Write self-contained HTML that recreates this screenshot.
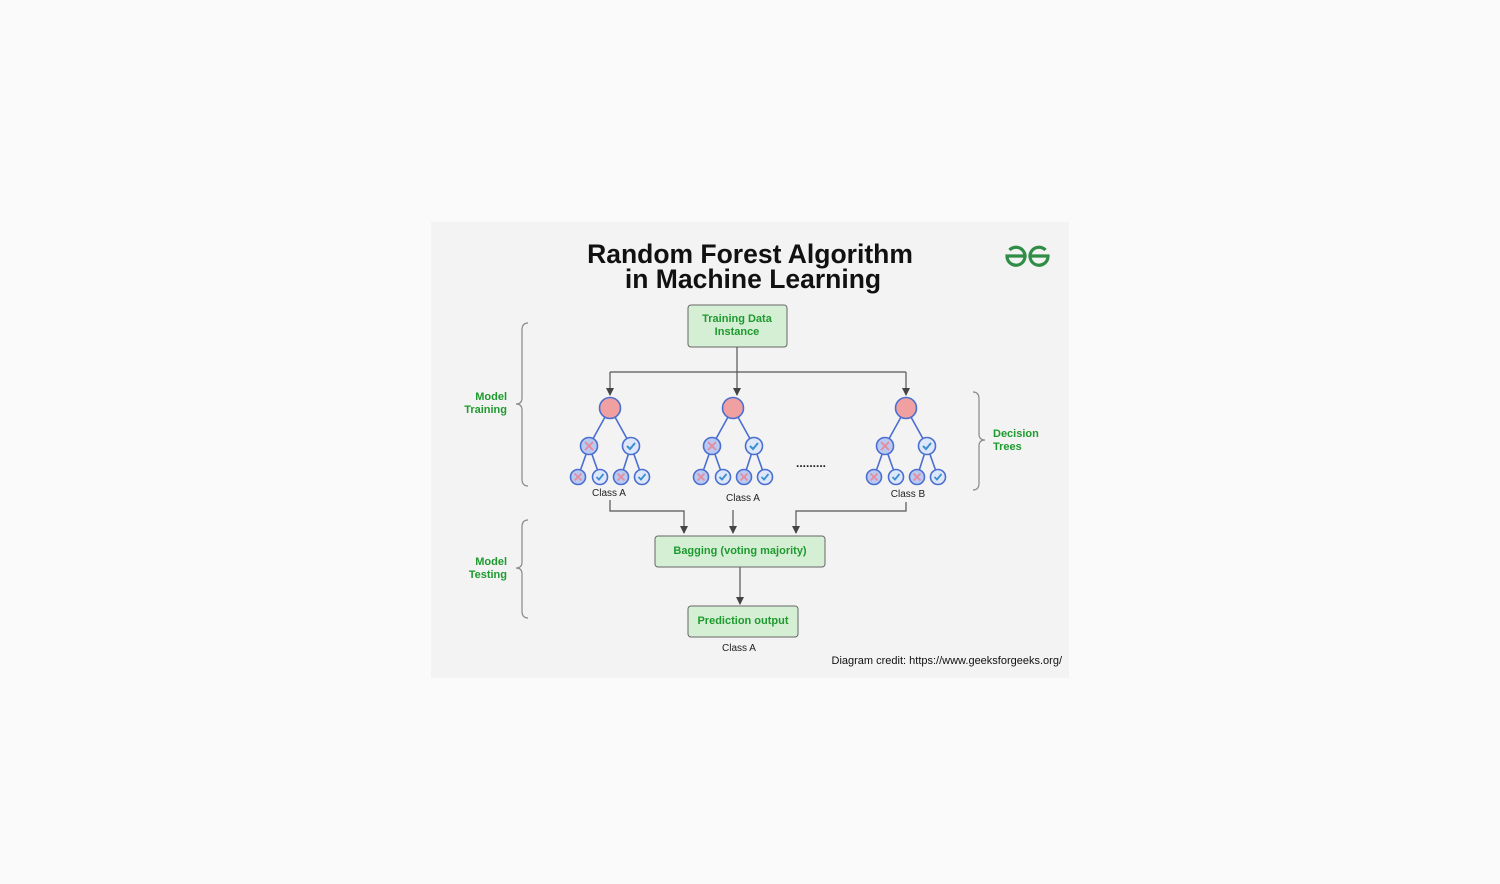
<!DOCTYPE html>
<html><head><style>
html,body{margin:0;padding:0;background:#fafafa;}
svg{display:block;}
text{font-family:"Liberation Sans",sans-serif;}
</style></head><body>
<svg width="1500" height="884" viewBox="0 0 1500 884" xmlns="http://www.w3.org/2000/svg">
<defs>
<marker id="ar" markerWidth="8" markerHeight="8" refX="7" refY="4" orient="auto" markerUnits="userSpaceOnUse">
<path d="M0,0 L8,4 L0,8 z" fill="#444"/></marker>
<g id="xc"><circle r="8.5" fill="#b9c9f2" stroke="#4a6fd0" stroke-width="1.6"/><path d="M-4,-4 L4,4 M4,-4 L-4,4" stroke="#e88a9a" stroke-width="1.8"/></g>
<g id="xs"><circle r="7.5" fill="#b9c9f2" stroke="#4a6fd0" stroke-width="1.6"/><path d="M-3.5,-3.5 L3.5,3.5 M3.5,-3.5 L-3.5,3.5" stroke="#e88a9a" stroke-width="1.6"/></g>
<g id="cc"><circle r="8.5" fill="#dde7f9" stroke="#4a6fd0" stroke-width="1.6"/><path d="M-4,0 L-1,3 L4,-3" fill="none" stroke="#3a8fd0" stroke-width="2"/></g>
<g id="cs"><circle r="7.5" fill="#dde7f9" stroke="#4a6fd0" stroke-width="1.6"/><path d="M-3.5,0 L-1,2.5 L3.5,-3" fill="none" stroke="#3a8fd0" stroke-width="1.8"/></g>
<g id="tree">
<path d="M0,0 L-21,38 M0,0 L21,38 M-21,38 L-32,69 M-21,38 L-10,69 M21,38 L11,69 M21,38 L32,69" stroke="#4a6fd0" stroke-width="1.6"/>
<circle r="10.5" fill="#f0a0a0" stroke="#4a6fd0" stroke-width="1.6"/>
<use href="#xc" x="-21" y="38"/><use href="#cc" x="21" y="38"/>
<use href="#xs" x="-32" y="69"/><use href="#cs" x="-10" y="69"/><use href="#xs" x="11" y="69"/><use href="#cs" x="32" y="69"/>
</g>
</defs>
<rect x="431" y="222" width="638" height="456" fill="#f3f3f3"/>
<text x="750" y="263" text-anchor="middle" font-size="26.5" font-weight="bold" fill="#111">Random Forest Algorithm</text>
<text x="753" y="288" text-anchor="middle" font-size="26.5" font-weight="bold" fill="#111">in Machine Learning</text>
<g fill="none" stroke="#2f8d46" stroke-width="3.2">
<path d="M1009.5,250 A9,9 0 1 1 1007,256 H1026"/>
<path d="M1045.5,250 A9,9 0 1 0 1048,256 H1029"/>
</g>
<rect x="688" y="305" width="99" height="42" rx="3" fill="#d5efd5" stroke="#666" stroke-width="1"/>
<text x="737" y="322" text-anchor="middle" font-size="11" font-weight="bold" fill="#1e9a2e">Training Data</text>
<text x="737" y="335" text-anchor="middle" font-size="11" font-weight="bold" fill="#1e9a2e">Instance</text>
<g stroke="#555" stroke-width="1.2" fill="none">
<path d="M737,347 V372 M610,372 H906 M610,372 V395" marker-end="url(#ar)"/>
<path d="M737,372 V395" marker-end="url(#ar)"/>
<path d="M906,372 V395" marker-end="url(#ar)"/>
<path d="M610,500 V511 H684 V533" marker-end="url(#ar)"/>
<path d="M733,510 V533" marker-end="url(#ar)"/>
<path d="M906,502 V511 H796 V533" marker-end="url(#ar)"/>
<path d="M740,567 V604" marker-end="url(#ar)"/>
</g>
<use href="#tree" x="610" y="408"/>
<use href="#tree" x="733" y="408"/>
<use href="#tree" x="906" y="408"/>
<text x="609" y="496" text-anchor="middle" font-size="10" fill="#222">Class A</text>
<text x="743" y="501" text-anchor="middle" font-size="10" fill="#222">Class A</text>
<text x="908" y="497" text-anchor="middle" font-size="10" fill="#222">Class B</text>
<text x="811" y="467" text-anchor="middle" font-size="12" font-weight="bold" fill="#222">.........</text>
<rect x="655" y="536" width="170" height="31" rx="3" fill="#d5efd5" stroke="#666" stroke-width="1"/>
<text x="740" y="554" text-anchor="middle" font-size="11" font-weight="bold" fill="#1e9a2e">Bagging (voting majority)</text>
<rect x="688" y="606" width="110" height="31" rx="3" fill="#d5efd5" stroke="#666" stroke-width="1"/>
<text x="743" y="624" text-anchor="middle" font-size="11" font-weight="bold" fill="#1e9a2e">Prediction output</text>
<text x="739" y="651" text-anchor="middle" font-size="10" fill="#222">Class A</text>
<text x="1062" y="664" text-anchor="end" font-size="11" fill="#111">Diagram credit: https://www.geeksforgeeks.org/</text>
<g font-size="11" font-weight="bold" fill="#1e9a2e">
<text x="507" y="400" text-anchor="end">Model</text><text x="507" y="413" text-anchor="end">Training</text>
<text x="507" y="565" text-anchor="end">Model</text><text x="507" y="578" text-anchor="end">Testing</text>
<text x="993" y="437">Decision</text><text x="993" y="450">Trees</text>
</g>
<g fill="none" stroke="#888" stroke-width="1.2">
<path d="M528,323 Q522,323 522,330 V398 Q522,404 516,404 Q522,404 522,410 V479 Q522,486 528,486"/>
<path d="M528,520 Q522,520 522,527 V562 Q522,568 516,568 Q522,568 522,574 V611 Q522,618 528,618"/>
<path d="M973,392 Q979,392 979,399 V434 Q979,440 985,440 Q979,440 979,446 V483 Q979,490 973,490"/>
</g>
</svg>
</body></html>
